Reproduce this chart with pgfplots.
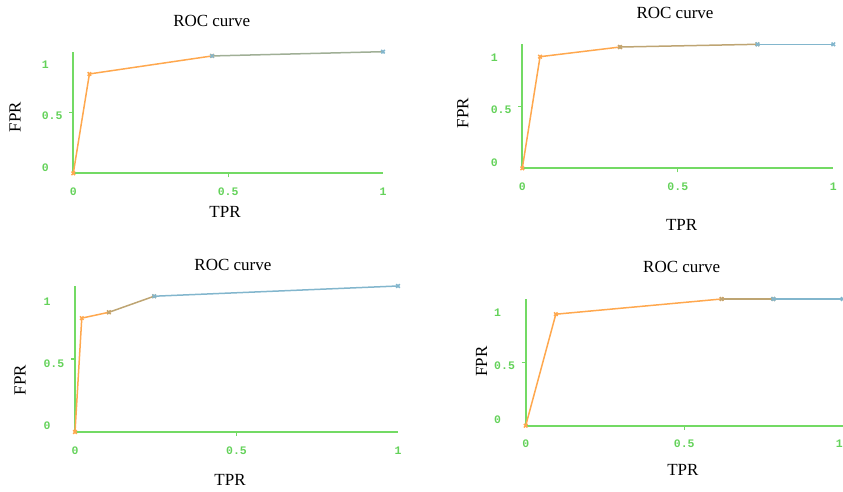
\documentclass[border=0pt]{standalone}
\usepackage{fontspec}
\setmainfont{Liberation Serif}
\setmonofont{Liberation Mono}
\usepackage{pgfplots}
\pgfplotsset{compat=1.18}
\definecolor{axgreen}{RGB}{115,218,100}
\definecolor{lblgreen}{RGB}{100,210,90}
\definecolor{orng}{RGB}{255,168,78}
\definecolor{mixc}{RGB}{190,165,115}
\definecolor{grayg}{RGB}{160,175,150}
\definecolor{blu}{RGB}{130,182,205}
\pgfplotsset{rocstyle/.style={
  scale only axis, xmin=0,xmax=1,ymin=0,ymax=1,
  axis x line=bottom, axis y line=left,
  axis line style={draw=axgreen, line width=2pt, -},
  x axis line style={draw=axgreen, line width=2pt, -},
  y axis line style={draw=axgreen, line width=2pt, -},
  xtick={0,0.5,1}, xticklabels={0,0.5,1},
  ytick={0.045,0.47,0.89}, yticklabels={0,0.5,1},
  major tick length=0pt,
  tick align=outside,
  tick style={draw=axgreen, line width=1.2pt},
  extra x ticks={0.5}, extra x tick labels={},
  extra y ticks={0.5}, extra y tick labels={},
  extra x tick style={major tick length=4pt},
  extra y tick style={major tick length=4pt},
  ticklabel style={font=\fontsize{11.5}{13}\ttfamily\bfseries, text=lblgreen},
  /pgf/number format/assume math mode=true,
  yticklabel style={anchor=west, xshift=-35pt},
  xticklabel style={yshift=-11pt},
  title style={font=\fontsize{17}{20}\selectfont, anchor=center},
  label style={font=\fontsize{17}{20}\selectfont},
  xlabel=TPR, ylabel=FPR, title=ROC curve,
  clip=false,
  every axis plot/.append style={line width=1.5pt, mark=x, mark size=2.5pt},
}}
\begin{document}
\begin{tikzpicture}
\useasboundingbox (0pt,0pt) rectangle (843pt,492pt);
% panel 1
\begin{axis}[rocstyle, at={(73.3pt,318.7pt)}, anchor=south west, width=309.7pt, height=121.6pt,
 title style={at={(axis description cs:0.447,1.206)}},
 xlabel style={at={(axis description cs:0.49,-0.316)}, anchor=center},
 ylabel style={at={(axis description cs:-0.188,0.463)}, anchor=center}]
\addplot[orng] coordinates {(0,0) (0.052,0.817) (0.448,0.965)};
\addplot[grayg, mark options={blu}] coordinates {(0.448,0.965) (1,1)};
\end{axis}
% panel 2
\begin{axis}[rocstyle, at={(522.3pt,323.7pt)}, anchor=south west, width=311pt, height=124pt,
 title style={at={(axis description cs:0.491,1.204)}},
 xlabel style={at={(axis description cs:0.5125,-0.457)}, anchor=center},
 ylabel style={at={(axis description cs:-0.191,0.446)}, anchor=center}]
\addplot[orng] coordinates {(0,0) (0.057,0.90) (0.314,0.978)};
\addplot[mixc] coordinates {(0.314,0.978) (0.756,1.0)};
\addplot[blu] coordinates {(0.756,1.0) (1,1)};
\end{axis}
% panel 3
\begin{axis}[rocstyle, at={(75pt,60pt)}, anchor=south west, width=323pt, height=146pt,
 title style={at={(axis description cs:0.489,1.105)}},
 xlabel style={at={(axis description cs:0.48,-0.329)}, anchor=center},
 ylabel style={at={(axis description cs:-0.17,0.356)}, anchor=center}]
\addplot[orng] coordinates {(0,0) (0.021,0.78) (0.105,0.82)};
\addplot[mixc] coordinates {(0.105,0.82) (0.245,0.93)};
\addplot[blu] coordinates {(0.245,0.93) (1,1)};
\end{axis}
% panel 4
\begin{axis}[rocstyle, at={(525.7pt,66.3pt)}, anchor=south west, width=317pt, height=126.7pt,
 xticklabels={0,0.5,\llap{1}},
 title style={at={(axis description cs:0.492,1.203)}},
 xlabel style={at={(axis description cs:0.496,-0.35)}, anchor=center},
 ylabel style={at={(axis description cs:-0.139,0.505)}, anchor=center}]
\addplot[orng] coordinates {(0,0) (0.095,0.88) (0.618,1.0)};
\addplot[mixc] coordinates {(0.618,1.0) (0.781,1.0)};
\addplot[blu] coordinates {(0.781,1.0) (1,1)};
\end{axis}
\end{tikzpicture}
\end{document}
